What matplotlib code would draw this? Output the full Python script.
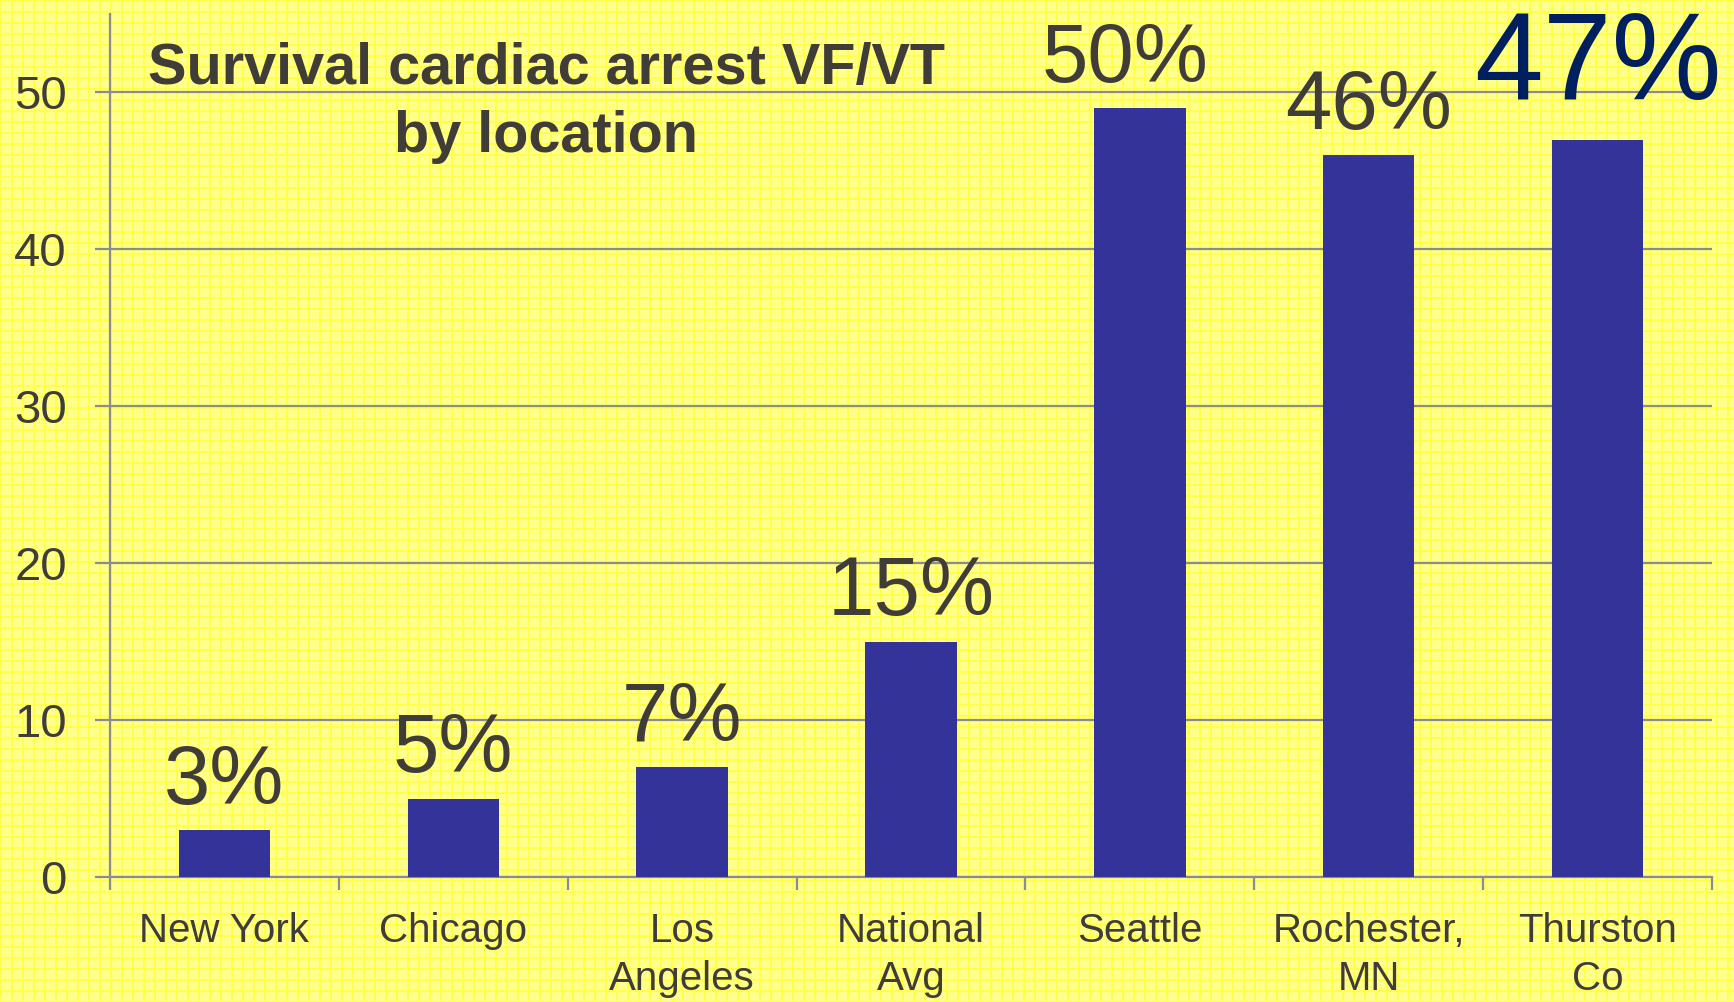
import numpy as np
import matplotlib
matplotlib.use("Agg")
import matplotlib.pyplot as plt

# ---- data ----
categories = ["New York", "Chicago", "Los\nAngeles", "National\nAvg",
              "Seattle", "Rochester,\nMN", "Thurston\nCo"]
values = [3, 5, 7, 15, 49, 46, 47]
labels = ["3%", "5%", "7%", "15%", "50%", "46%", "47%"]
title = "Survival cardiac arrest VF/VT\nby location"

# ---- style ----
W, H, DPI = 1734, 1002, 100
text_col = "#403c38"
bar_col = "#333399"
hi_col = "#001f5f"
grid_col = "#8c8c8c"
plt.rcParams["font.family"] = ["Liberation Sans", "DejaVu Sans"]

fig = plt.figure(figsize=(W / DPI, H / DPI), dpi=DPI)

# background yellow graph-paper pattern
bg = fig.add_axes([0, 0, 1, 1], zorder=-10)
img = np.ones((H, W, 3))
img[..., 2] = 0.55
step = 11
yy, xx = np.mgrid[0:H, 0:W]
mask = ((xx % step) < 2) | ((yy % step) < 2)
img[mask, 2] = 0.3
bg.imshow(img, aspect="auto", interpolation="nearest")
bg.axis("off")

ax = fig.add_axes([110 / W, 1 - 877 / H, (1712 - 110) / W, (877 - 14) / H])
ax.set_facecolor("none")
x = np.arange(len(categories))
bars = ax.bar(x, values, width=0.4, color=bar_col, zorder=3)

ax.set_xlim(-0.5, len(categories) - 0.5)
ax.set_ylim(0, 55)
ax.set_yticks([0, 10, 20, 30, 40, 50])
ax.yaxis.grid(True, color=grid_col, linewidth=1.6, zorder=1)
ax.set_axisbelow(True)

# x ticks: marks at boundaries, labels at centres
ax.set_xticks(np.arange(-0.5, len(categories), 1.0))
ax.set_xticklabels([])
ax.set_xticks(x, minor=True)
ax.set_xticklabels(categories, minor=True, fontsize=29, color=text_col,
                   linespacing=1.34)
ax.tick_params(axis="x", which="major", length=9, width=1.6, color=grid_col,
               direction="out")
ax.tick_params(axis="x", which="minor", length=0, pad=25)
ax.tick_params(axis="y", length=11, width=1.6, color=grid_col, pad=20,
               labelsize=34, labelcolor=text_col)

for s in ["top", "right"]:
    ax.spines[s].set_visible(False)
for s in ["left", "bottom"]:
    ax.spines[s].set_color(grid_col)
    ax.spines[s].set_linewidth(1.6)

# value labels
x_off = [0, 0, 0, 0, -11, 0, 0]
for i, (v, lab) in enumerate(zip(values, labels)):
    big = (i == len(values) - 1)
    ax.annotate(lab, (i, v), xytext=(x_off[i], 29 if big else 19),
                textcoords="offset points", ha="center", va="baseline",
                fontsize=89 if big else 60,
                color=hi_col if big else text_col, zorder=5,
                annotation_clip=False)

fig.text(546 / W, 1 - 103 / H, title, ha="center", va="center",
         fontsize=41.5, fontweight="bold", color=text_col, linespacing=1.32)

fig.savefig("out.png", dpi=DPI)
